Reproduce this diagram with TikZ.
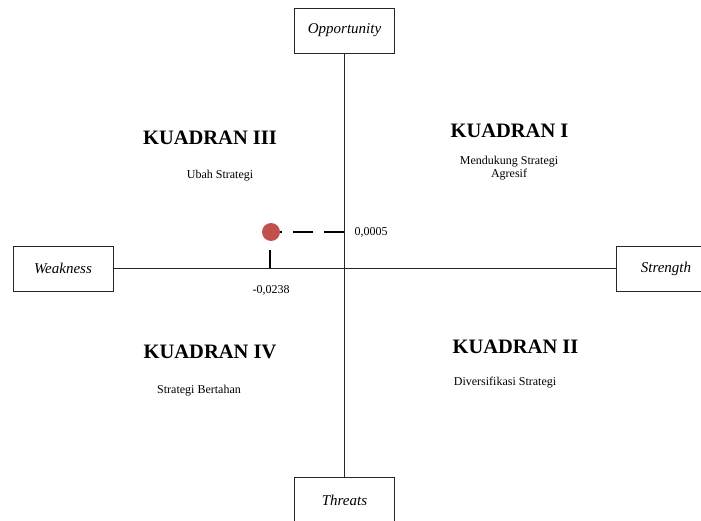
\documentclass[tikz,border=0pt]{standalone}
\usepackage{fontspec}
\setmainfont{Liberation Serif}
\begin{document}
\begin{tikzpicture}[x=1pt,y=-1pt,
  axbox/.style={draw=black!85,line width=0.8pt,minimum width=100pt,minimum height=45pt,inner sep=0pt,font=\fontsize{15}{17}\selectfont\itshape},
  quad/.style={font=\fontsize{20.5}{23}\selectfont\bfseries},
  sub/.style={font=\fontsize{12}{12.5}\selectfont,align=center},
  val/.style={font=\fontsize{12}{12}\selectfont},
  axis/.style={draw=black!85,line width=0.8pt},
  marker/.style={line width=2.5pt,draw=black}]
\useasboundingbox (0,0) rectangle (701,521);
\node[axbox] (opp) at (344.5,30.5) {Opportunity};
\node[axbox] (weak) at (63,268.5) {Weakness};
\node[axbox] (str) at (666,268.5) {Strength};
\node[axbox] (thr) at (344.5,500) {Threats};
\draw[axis] (weak.east) -- (str.west);
\draw[axis] (opp.south) -- (thr.north);
\node[circle,fill={rgb,255:red,192;green,80;blue,77},minimum size=18pt,inner sep=0pt] (dot) at (271,232) {};
\coordinate (ax1) at (344,232);
\coordinate (ax2) at (270,268);
\coordinate (vtop) at (270,250);
\draw[marker,dash pattern=on 20pt off 11pt] (ax1) -- (dot.east);
\draw[marker] (vtop) -- (ax2);
\node[val,anchor=west] (v1) at (351,232) {0,0005};
\node[val] (v2) at (271,290) {-0,0238};
\node[quad] (q3) at (210,138) {KUADRAN III};
\node[sub] (s3) at (220,176) {Ubah Strategi};
\node[quad] (q1) at (509.5,131) {KUADRAN I};
\node[sub] (s1) at (509,168) {Mendukung Strategi\\Agresif};
\node[quad] (q4) at (210,352) {KUADRAN IV};
\node[sub] (s4) at (199,391) {Strategi Bertahan};
\node[quad] (q2) at (515.5,347) {KUADRAN II};
\node[sub] (s2) at (505,383) {Diversifikasi Strategi};
\end{tikzpicture}
\end{document}
